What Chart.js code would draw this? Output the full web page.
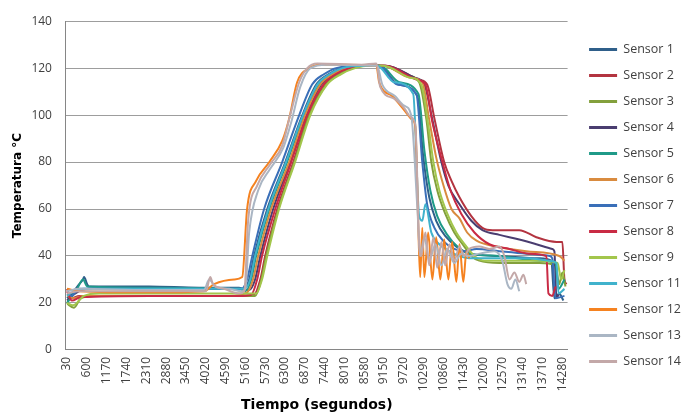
<!DOCTYPE html>
<html>
<head>
<meta charset="utf-8">
<script src="https://cdn.jsdelivr.net/npm/chart.js@4.4.0/dist/chart.umd.min.js"></script>
<style>
  body { margin: 0; background: #fff; }
  #wrap { width: 683px; height: 414px; }
</style>
</head>
<body>
<div id="wrap"><canvas id="tempChart" width="683" height="414"></canvas></div>
<script>
// tick labels on the time axis (seconds)
const xTickValues = [30, 600, 1170, 1740, 2310, 2880, 3450, 4020, 4590, 5160, 5730, 6300, 6870, 7440,
  8010, 8580, 9150, 9720, 10290, 10860, 11430, 12000, 12570, 13140, 13710, 14280];

const sensorNames = ['Sensor 1', 'Sensor 2', 'Sensor 3', 'Sensor 4', 'Sensor 5', 'Sensor 6', 'Sensor 7',
  'Sensor 8', 'Sensor 9', 'Sensor 11', 'Sensor 12', 'Sensor 13', 'Sensor 14'];
const sensorColors = ['#2f5f8a', '#b33440', '#83a03c', '#4a3d70', '#1f9a88', '#d98b3f', '#3a6fb8',
  '#c92a44', '#a3c64c', '#40b2cc', '#f58220', '#aab6c4', '#c3a8a8'];

// readings: time (s) and temperature (°C) per sensor
const s1Time = [30, 170, 380, 490, 520, 610, 660, 2390, 3830, 4980, 5100, 5270, 5410, 5790, 6310, 6800, 7200, 7560, 7920, 8580, 9010, 9560, 10110, 10280, 10450, 10650, 10940, 11230, 11600, 12470, 13620, 13960, 14050, 14190, 14310];
const s1Temp = [22, 24, 28, 30, 31, 28, 27, 27, 26.5, 26.5, 26, 30, 40, 60, 80, 100, 113, 117.5, 120, 121, 121, 113, 108, 82, 65, 55, 48, 44, 41, 40, 39, 38, 22, 24, 21];

const s2Time = [30, 150, 380, 2390, 4980, 5410, 5590, 5730, 6080, 6540, 6970, 7430, 7820, 8200, 8580, 9210, 10160, 10390, 10600, 10880, 11090, 11320, 11660, 11980, 12270, 13040, 13530, 14110, 14280, 14340, 14400];
const s2Temp = [26, 22, 23, 23, 23, 23.5, 30, 40, 60, 80, 100, 113, 117.5, 120, 121, 121, 115, 113, 98.5, 80, 72, 65, 57, 52, 51, 51, 48, 46, 46, 30, 28];

const s3Time = [30, 90, 230, 430, 810, 2390, 4980, 5440, 5620, 5760, 6110, 6570, 7000, 7490, 7880, 8260, 8650, 9100, 9790, 10160, 10370, 10510, 10680, 10910, 11170, 11460, 11660, 11890, 12470, 13620, 14080, 14190, 14280, 14370];
const s3Temp = [20, 19, 18, 22, 23, 23, 23, 23, 30, 40, 60, 80, 100, 113, 117.5, 120, 121, 121, 117, 114, 98, 80, 68, 58, 50, 44, 40, 38, 37, 37, 36, 28, 33, 27];

const s4Time = [30, 260, 660, 2390, 4980, 5270, 5440, 5590, 5960, 6450, 6910, 7340, 7720, 8090, 8580, 9180, 10020, 10310, 10540, 10800, 11000, 11320, 11660, 11980, 12470, 13040, 13530, 13990, 14050, 14110, 14190];
const s4Temp = [21, 24, 26, 26, 26, 25.5, 30, 40, 60, 80, 100, 113, 117.5, 120, 121, 121, 116, 113, 98, 80, 70, 62, 55, 51, 49, 47, 45, 43, 42, 22, 24];

const s5Time = [30, 320, 490, 610, 2390, 4980, 5160, 5330, 5470, 5850, 6360, 6850, 7290, 7650, 8000, 8580, 9040, 9590, 10140, 10310, 10480, 10680, 10970, 11260, 11600, 12470, 13620, 14080, 14170, 14340];
const s5Temp = [20, 26, 30, 27, 26.5, 26, 25, 30, 40, 60, 80, 100, 113, 117.5, 120, 121, 121, 114, 109, 85, 68, 57, 49, 44, 41, 40, 38, 37, 26, 30];

const s6Time = [30, 230, 520, 2390, 4690, 5210, 5380, 5530, 5900, 6420, 6880, 7310, 7690, 8060, 8580, 9130, 9880, 10250, 10450, 10650, 10860, 11090, 11320, 11540, 11810, 12380, 13240, 14190, 14340];
const s6Temp = [23, 22, 23, 23, 23, 24.5, 30, 40, 60, 80, 100, 113, 117.5, 120, 121, 121, 116, 114, 98, 82, 70, 60, 56, 50, 46.5, 44, 42, 40, 38];

const s7Time = [30, 150, 380, 2390, 4980, 5040, 5210, 5360, 5700, 6220, 6710, 7080, 7430, 7770, 8580, 9010, 9530, 10080, 10250, 10390, 10600, 10880, 11170, 11460, 11810, 12470, 13240, 13910, 13990, 14080, 14340];
const s7Temp = [24, 23, 26, 26, 26, 26, 30, 40, 60, 80, 100, 113, 117.5, 120, 121, 121, 113, 109, 80, 62, 52, 46, 43, 42, 43, 42, 41, 40, 39, 22, 23];

const s8Time = [30, 170, 430, 2390, 4980, 5330, 5500, 5640, 6020, 6480, 6940, 7400, 7770, 8150, 8580, 9180, 10110, 10340, 10540, 10830, 11060, 11370, 11750, 12180, 12760, 13330, 13820, 13880, 13990, 14080];
const s8Temp = [25, 21, 22.5, 23, 23, 23.5, 30, 40, 60, 80, 100, 113, 117.5, 120, 121, 121, 115, 113, 97, 80, 68, 58, 50, 45, 43, 41, 40, 24, 23, 27];

const s9Time = [30, 200, 520, 950, 2390, 4980, 5470, 5640, 5790, 6130, 6590, 7030, 7510, 7920, 8320, 8700, 9130, 9880, 10220, 10420, 10570, 10740, 10970, 11230, 11520, 11750, 12040, 13620, 14140, 14250, 14340];
const s9Temp = [20, 19, 23, 24, 24, 24, 24, 30, 40, 60, 80, 100, 113, 117.5, 120, 121, 121, 116, 113, 96, 80, 68, 58, 50, 44, 40, 38, 38, 37, 30, 34];

const s11Time = [30, 230, 520, 2390, 4980, 5130, 5300, 5440, 5820, 6330, 6820, 7230, 7590, 7950, 8580, 8950, 9440, 9990, 10160, 10250, 10340, 10510, 10740, 11030, 11320, 11600, 12470, 13330, 13910, 14110, 14170, 14340];
const s11Temp = [23, 25, 26, 26, 26, 26, 30, 40, 60, 80, 100, 113, 117.5, 120, 121, 121, 114, 109, 57, 55, 62, 50, 45, 42, 40, 39, 39, 39, 38, 37, 24, 26];

const s12Time = [30, 380, 2390, 3970, 4260, 4840, 5070, 5210, 5470, 5850, 6220, 6420, 6650, 7000, 7290, 8000, 8930, 9010, 9390, 9790, 9960, 10050, 10140, 10190, 10250, 10310, 10420, 10540, 10650, 10770, 10880, 11000, 11110, 11230, 11320, 11430, 11520, 11600];
const s12Temp = [26, 25, 24.5, 25, 28, 30, 31, 60, 72, 80, 89, 98.5, 114, 120, 121.5, 121.5, 121, 114, 108, 101, 98, 95, 50, 31, 52, 31, 50, 30, 48, 30, 47, 30, 46, 29, 45, 29, 42, 39];

const s13Time = [30, 380, 2390, 3970, 4120, 4290, 4690, 5070, 5160, 5270, 5530, 5870, 6250, 6480, 6740, 7030, 7500, 8950, 9100, 9470, 9730, 9930, 10110, 10190, 10310, 10450, 10630, 10800, 10970, 11170, 11370, 11600, 11890, 12320, 12550, 12700, 12810, 12930, 13040];
const s13Temp = [25, 26, 25.5, 25.5, 30, 27, 26, 25, 26, 50, 68, 77, 86, 97, 112, 120, 121.5, 121, 113, 108, 104, 100, 60, 40, 48, 38, 45, 36, 43, 37, 41, 40, 41, 42, 38, 28, 26, 30, 25];

const s14Time = [30, 380, 2390, 4030, 4150, 4230, 4550, 4980, 5130, 5240, 5500, 5870, 6220, 6450, 6710, 6940, 7230, 8500, 8930, 9040, 9440, 9730, 9930, 10050, 10160, 10220, 10340, 10450, 10570, 10680, 10800, 10910, 11030, 11170, 11320, 11460, 11600, 11890, 12180, 12470, 12610, 12760, 12900, 13040, 13160, 13240];
const s14Temp = [24, 25, 25, 25, 31, 28, 26, 24, 25, 55, 70, 79, 87, 100, 114, 120, 122, 121.5, 122, 112, 107, 103, 99, 96, 45, 40, 50, 36, 48, 35, 46, 36, 45, 38, 44, 40, 43, 44, 43, 44, 40, 30, 33, 29, 32, 28];

const sensorTimes = [s1Time, s2Time, s3Time, s4Time, s5Time, s6Time, s7Time, s8Time, s9Time, s11Time, s12Time, s13Time, s14Time];
const sensorTemps = [s1Temp, s2Temp, s3Temp, s4Temp, s5Temp, s6Temp, s7Temp, s8Temp, s9Temp, s11Temp, s12Temp, s13Temp, s14Temp];

const tickFont = { family: 'Open Sans', size: 12 };
const tickColor = '#404040';
const gridColor = '#9d9d9d';

// nudge the legend a bit to the right / up, like the Excel original
const legendNudge = {
  id: 'legendNudge',
  afterLayout(chart) {
    const l = chart.legend;
    l.left += 8; l.right += 8;
    l.top -= 11; l.bottom -= 11;
  }
};

const datasets = sensorNames.map((name, i) => ({
  label: name,
  data: sensorTimes[i].map((t, j) => ({ x: t, y: sensorTemps[i][j] })),
  borderColor: sensorColors[i],
  backgroundColor: sensorColors[i],
  borderWidth: 2,
  pointRadius: 0,
  fill: false,
  cubicInterpolationMode: 'monotone',
  order: sensorNames.length - i // later sensors drawn on top
}));

new Chart(document.getElementById('tempChart'), {
  type: 'line',
  data: { datasets },
  plugins: [legendNudge],
  options: {
    responsive: false,
    animation: false,
    layout: { padding: { top: 19, left: 8, right: 0, bottom: 0 } },
    plugins: {
      tooltip: { enabled: false },
      legend: {
        position: 'right',
        labels: {
          font: { family: 'Open Sans', size: 12.5 },
          color: '#404040',
          boxWidth: 28,
          boxHeight: 3,
          padding: 13.5,
          sort: (a, b) => a.datasetIndex - b.datasetIndex,
          generateLabels: chart => Chart.defaults.plugins.legend.labels.generateLabels(chart)
            .map(item => ({ ...item, lineWidth: 0 }))
        }
      }
    },
    scales: {
      x: {
        type: 'linear',
        min: 0,
        max: 14430,
        afterBuildTicks: axis => { axis.ticks = xTickValues.map(v => ({ value: v })); },
        ticks: {
          autoSkip: false,
          minRotation: 90,
          maxRotation: 90,
          padding: 7,
          font: tickFont,
          color: tickColor,
          callback: v => String(v)
        },
        grid: { display: false, drawTicks: false },
        border: { display: true, color: '#868686', width: 1 },
        title: {
          display: true,
          text: 'Tiempo (segundos)',
          font: { family: 'DejaVu Sans', size: 14, weight: 'bold' },
          color: '#000',
          padding: { top: -1, bottom: 0 }
        }
      },
      y: {
        min: 0,
        max: 140,
        ticks: { stepSize: 20, padding: 14, font: tickFont, color: tickColor },
        grid: { color: gridColor, drawTicks: false },
        border: { display: true, color: '#868686', width: 1 },
        title: {
          display: true,
          text: 'Temperatura °C',
          font: { family: 'DejaVu Sans', size: 12, weight: 'bold' },
          color: '#000',
          padding: { top: 3, bottom: -8 }
        }
      }
    }
  }
});
</script>
</body>
</html>
